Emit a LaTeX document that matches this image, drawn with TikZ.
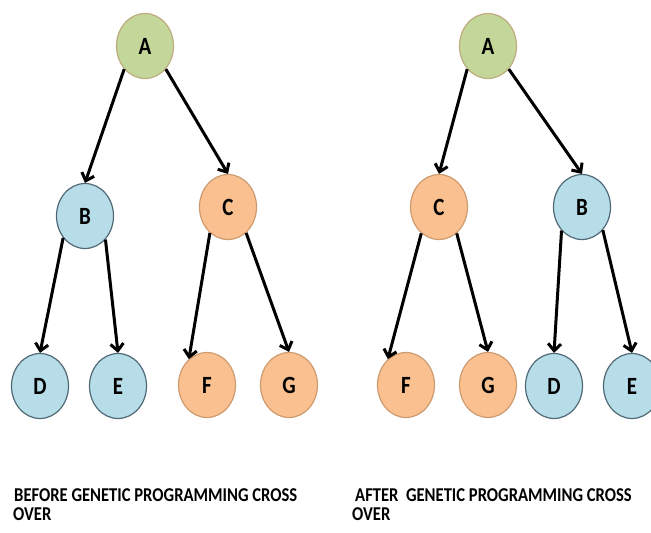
\documentclass[tikz,border=0pt]{standalone}
\usepackage{fontspec}
\setmainfont{Carlito}
\usetikzlibrary{arrows.meta}
\usetikzlibrary{shapes.geometric}
\definecolor{mgreen}{RGB}{196, 215, 155}
\definecolor{mgreenline}{RGB}{190, 172, 128}
\definecolor{mblue}{RGB}{183, 221, 232}
\definecolor{mblueline}{RGB}{80, 105, 118}
\definecolor{morange}{RGB}{250, 192, 144}
\definecolor{morangeline}{RGB}{205, 155, 112}
\newcommand{\tallt}[1]{\scalebox{1}[1.18]{#1}}
\tikzset{tnode/.style = {ellipse, draw, line width = 1.2, minimum width = 57, minimum height = 65, inner sep = 0, font = \fontsize{21}{21}\selectfont\bfseries}}
\tikzset{gnode/.style = {tnode, fill = mgreen, draw = mgreenline}}
\tikzset{bnode/.style = {tnode, fill = mblue, draw = mblueline}}
\tikzset{onode/.style = {tnode, fill = morange, draw = morangeline}}
\tikzset{edge/.style = {-{Straight Barb[length = 7, width = 13]}, line width = 3}}
\tikzset{caption/.style = {anchor = base west, inner sep = 0, font = \fontsize{16.6}{16.6}\selectfont\bfseries}}

\begin{document}
\begin{tikzpicture}[x = 1pt, y = -1pt]
  \useasboundingbox (0, 0) rectangle (651, 533);
  % before
  \node [gnode] (A1) at (145, 46) {\tallt{A}};
  \node [bnode] (B1) at (85, 216) {\tallt{B}};
  \node [onode] (C1) at (228, 207) {\tallt{C}};
  \node [bnode] (D1) at (40, 386) {\tallt{D}};
  \node [bnode] (E1) at (118, 386) {\tallt{E}};
  \node [onode] (F1) at (207, 385) {\tallt{F}};
  \node [onode] (G1) at (289, 385) {\tallt{G}};
  \draw [edge] (A1.228) -- (B1.north);
  \draw [edge] (A1.312) -- (C1.north);
  \draw [edge] (B1.225) -- (D1.north);
  \draw [edge] (B1.311) -- (E1.north);
  \draw [edge] (C1.235) -- (F1.125);
  \draw [edge] (C1.305) -- (G1.north);
  % after
  \node [gnode] (A2) at (488, 46) {\tallt{A}};
  \node [onode] (C2) at (439, 207) {\tallt{C}};
  \node [bnode] (B2) at (582, 207) {\tallt{B}};
  \node [onode] (F2) at (406, 385) {\tallt{F}};
  \node [onode] (G2) at (488, 385) {\tallt{G}};
  \node [bnode] (D2) at (554, 386) {\tallt{D}};
  \node [bnode] (E2) at (632, 386) {\tallt{E}};
  \draw [edge] (A2.228) -- (C2.north);
  \draw [edge] (A2.312) -- (B2.north);
  \draw [edge] (C2.236) -- (F2.125);
  \draw [edge] (C2.304) -- (G2.north);
  \draw [edge] (B2.229) -- (D2.north);
  \draw [edge] (B2.312) -- (E2.north);
  % captions
  \node [caption] (before1) at (14, 501) {\tallt{BEFORE GENETIC PROGRAMMING CROSS}};
  \node [caption] (before2) at (13, 520) {\tallt{OVER}};
  \node [caption] (after1) at (355, 501) {\tallt{AFTER~~GENETIC PROGRAMMING CROSS}};
  \node [caption] (after2) at (352, 520) {\tallt{OVER}};
\end{tikzpicture}
\end{document}
